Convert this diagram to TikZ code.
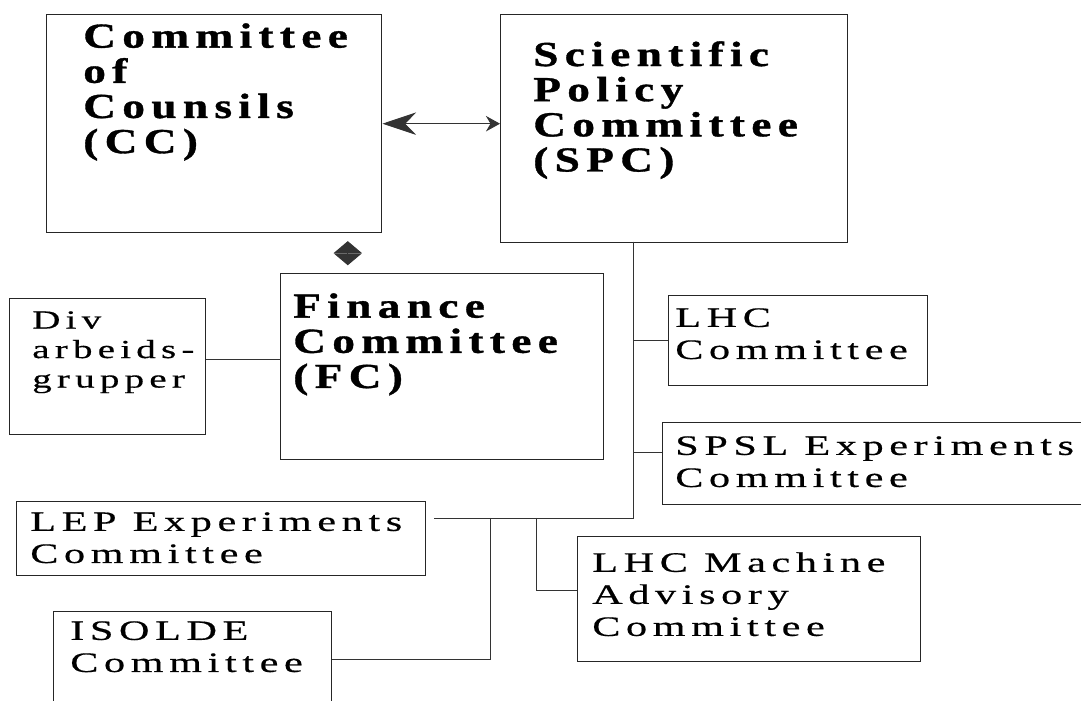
\documentclass[tikz,border=0pt]{standalone}
\usepackage{fontspec}
\usepackage{tikz}
\usetikzlibrary{arrows.meta}
\usetikzlibrary{calc}

\newfontfamily\heavyfont{Liberation Serif}[FakeStretch=1.29,LetterSpace=18,FakeBold=1,Ligatures=NoCommon]
\newfontfamily\lightfont{Liberation Serif}[FakeStretch=1.5,LetterSpace=20,FakeBold=0.5,Ligatures=NoCommon]
\newcommand\pxu{0.025cm}

\tikzset{
  box/.style={draw=black!85, line width=1pt, rectangle, inner sep=0pt, anchor=north west},
  headtxt/.style={anchor=north west, inner sep=0pt, align=left,
    font={\heavyfont\bfseries\fontsize{25}{25}\selectfont}},
  bodytxt/.style={anchor=north west, inner sep=0pt, align=left,
    font={\lightfont\fontsize{20}{22.8}\selectfont}},
  link/.style={draw=black!80, line width=0.7pt},
}

\begin{document}
\begin{tikzpicture}[x=0.025cm, y=-0.025cm]
\path[use as bounding box, fill=white] (0,0) rectangle (1081,701);

% boxes
\path (46,14) node[box, minimum width=335*\pxu, minimum height=218*\pxu] (cc) {};
\path (500,14) node[box, minimum width=347*\pxu, minimum height=228*\pxu] (spc) {};
\path (9,298) node[box, minimum width=196*\pxu, minimum height=136*\pxu] (div) {};
\path (280,273) node[box, minimum width=323*\pxu, minimum height=186*\pxu] (fc) {};
\path (668,295) node[box, minimum width=259*\pxu, minimum height=90*\pxu] (lhc) {};
\path (662,422) node[box, minimum width=440*\pxu, minimum height=82*\pxu] (spsl) {};
\path (16,501) node[box, minimum width=409*\pxu, minimum height=74*\pxu] (lep) {};
\path (53,611) node[box, minimum width=278*\pxu, minimum height=96*\pxu] (isolde) {};
\path (577,536) node[box, minimum width=343*\pxu, minimum height=125*\pxu] (lhcm) {};

% texts
\path (83,23) node[headtxt] (cc-t) {Committee\\of\\Counsils\\(CC)};
\path (533,41) node[headtxt] (spc-t) {Scientific\\Policy\\Committee\\(SPC)};
\path (293,293) node[headtxt] (fc-t) {Finance\\Committee\\(FC)};
\path (32,311) node[bodytxt, font={\lightfont\fontsize{18.5}{21}\selectfont}] (div-t) {Div\\arbeids-\\grupper};
\path (675,308) node[bodytxt] (lhc-t) {LHC\\Committee};
\path (675,436) node[bodytxt] (spsl-t) {SPSL Experiments\\Committee};
\path (30,512) node[bodytxt] (lep-t) {LEP Experiments\\Committee};
\path (70,621) node[bodytxt] (isolde-t) {ISOLDE\\Committee};
\path (592,552) node[bodytxt] (lhcm-t) {LHC Machine\\Advisory\\Committee};

% junctions
\coordinate (tr) at (633,242);
\coordinate (jn) at (633,518);
\coordinate (le) at (434,518);
\coordinate (b1) at (490,518);
\coordinate (b2) at (536,518);

% connectors
\draw[link, {Stealth[length=24pt,width=16pt]}-{Stealth[length=10pt,width=11pt]}] (cc.east) -- (spc.west |- cc.east);
\draw[link, {Triangle[length=8.5pt,width=20pt]}-{Triangle[length=8.5pt,width=20pt]},
  shorten <=5.5pt, shorten >=5.5pt] ([xshift=95pt]cc.south) -- ([xshift=95pt]cc.south |- fc.north);
\draw[link] ([yshift=5pt]div.east) -- ([yshift=5pt]fc.west);
\draw[link] (tr) -- (jn) -- (le);
\draw[link] (tr) |- (lhc.west);
\draw[link] (tr) |- ([yshift=8pt]spsl.west);
\draw[link] (b2) |- ([yshift=6pt]lhcm.west);
\draw[link] (b1) |- (isolde.east);

\end{tikzpicture}
\end{document}
